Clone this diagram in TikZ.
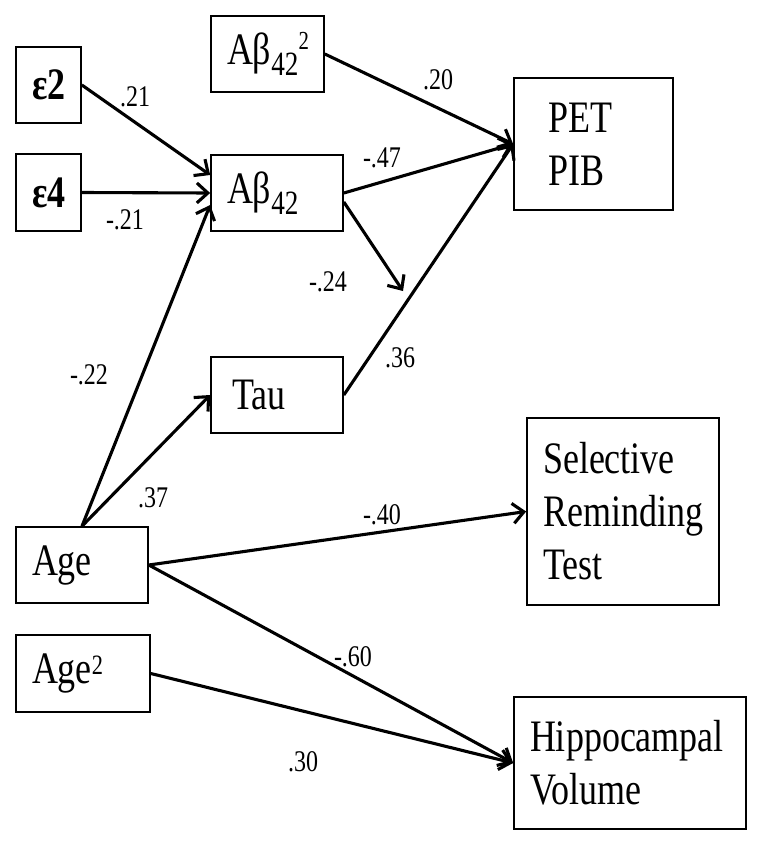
\documentclass[tikz,border=0pt]{standalone}
\usepackage{fontspec}
\setmainfont{Liberation Serif}[FakeStretch=0.8]
\usetikzlibrary{arrows.meta}
\newcommand{\bigf}{\fontsize{45}{53}\selectfont}
\newcommand{\lblf}{\fontsize{30}{32}\selectfont}
\newcommand{\lowsub}[1]{\raisebox{-11pt}{\fontsize{34}{36}\selectfont #1}}
\newcommand{\highsup}[3]{\raisebox{#1}{\fontsize{#2}{#2}\selectfont #3}}
\tikzset{
  box/.style={draw, line width=1.7pt, inner ysep=0pt, font=\bigf, align=left},
  arr/.style={line width=3.1pt, -{Straight Barb[length=11pt,width=20pt,line width=3.1pt]}},
  lbl/.style={font=\lblf, inner sep=0pt}
}
\begin{document}
\begin{tikzpicture}[x=1pt,y=-1pt]
\useasboundingbox (0,0) rectangle (762,846);
% boxes
\node[box, align=center, minimum height=76pt, text width=33pt, inner xsep=16pt] (e2) at (48.5,85) {\textbf{ε2}};
\node[box, align=center, minimum height=77pt, text width=33pt, inner xsep=16pt] (e4) at (48.5,192.5) {\textbf{ε4}};
\node[box, minimum height=76pt, text width=81pt, inner xsep=16pt] (ab2) at (267.5,54) {Aβ\lowsub{42}\highsup{15pt}{26}{2}};
\node[box, minimum height=76pt, text width=100pt, inner xsep=16pt] (ab) at (277,193) {Aβ\lowsub{42}};
\node[box, minimum height=132pt, text width=91pt, inner xsep=34pt] (pet) at (593.5,144) {PET\\PIB};
\node[box, minimum height=76pt, text width=90pt, inner xsep=21pt] (tau) at (277,395) {Tau};
\node[box, minimum height=187pt, text width=160pt, inner xsep=16pt] (srt) at (623,511.5) {Selective\\Reminding\\Test};
\node[box, minimum height=76pt, text width=100pt, inner xsep=16pt] (age) at (82,565) {Age};
\node[box, minimum height=77pt, text width=102pt, inner xsep=16pt] (age2) at (83,673.5) {Age\highsup{9pt}{28}{2}};
\node[box, minimum height=132pt, text width=200pt, inner xsep=16pt] (hip) at (630,763) {Hippocampal\\Volume};
\coordinate (mod) at (403,291);
% connectors
\draw[arr] (e2.east) -- ([yshift=18pt]ab.west);
\draw[arr] (e4.east) -- (ab.west);
\draw[arr] (age.north) -- ([yshift=-12pt]ab.west);
\draw[arr] (age.north) -- (tau.west);
\draw[arr] (ab2.east) -- (pet.west);
\draw[arr] (ab.east) -- (pet.west);
\draw[arr] (tau.east) -- (pet.west);
\draw[arr] ([yshift=-9pt]ab.east) -- (mod);
\draw[arr] (age.east) -- (srt.west);
\draw[arr] (age.east) -- (hip.west);
\draw[arr] (age2.east) -- (hip.west);
% labels
\node[lbl] (l1) at (135,97) {.21};
\node[lbl] (l2) at (125,220) {-.21};
\node[lbl] (l3) at (438,80) {.20};
\node[lbl] (l4) at (382,158) {-.47};
\node[lbl] (l5) at (328,282) {-.24};
\node[lbl] (l6) at (400,358) {.36};
\node[lbl] (l7) at (89,375) {-.22};
\node[lbl] (l8) at (153,498) {.37};
\node[lbl] (l9) at (382,515) {-.40};
\node[lbl] (l10) at (353,657) {-.60};
\node[lbl] (l11) at (303,762) {.30};
\end{tikzpicture}
\end{document}
